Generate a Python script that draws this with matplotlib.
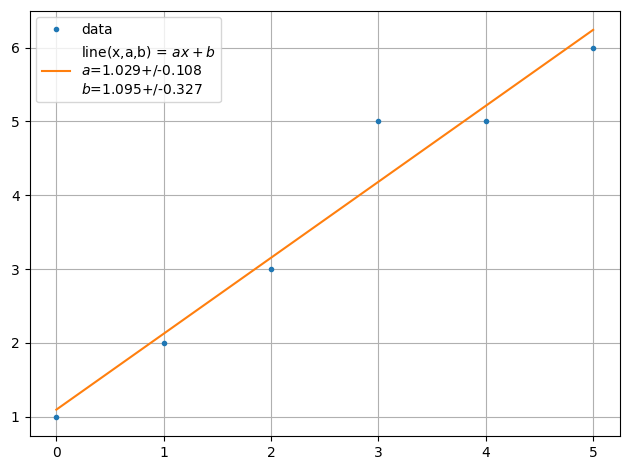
import numpy as np
import matplotlib
matplotlib.use("Agg")
import matplotlib.pyplot as plt

x_data = [0, 1, 2, 3, 4, 5]
y_data = [1, 2, 3, 5, 5, 6]
a_fit, a_err = 1.029, 0.108
b_fit, b_err = 1.095, 0.327

fig, ax = plt.subplots(figsize=(6.3, 4.7), dpi=100)
ax.plot(x_data, y_data, '.', label='data')
x_line = np.array([x_data[0], x_data[-1]], dtype=float)
ax.plot(x_line, a_fit * x_line + b_fit,
        label='line(x,a,b) = $ax+b$\n$a$=%.3f+/-%.3f\n$b$=%.3f+/-%.3f' % (a_fit, a_err, b_fit, b_err))
ax.grid(True)
ax.legend(loc='upper left')
fig.subplots_adjust(left=29.5/630, right=620/630, bottom=1-436/470, top=1-10.5/470)
fig.savefig('out.png')
